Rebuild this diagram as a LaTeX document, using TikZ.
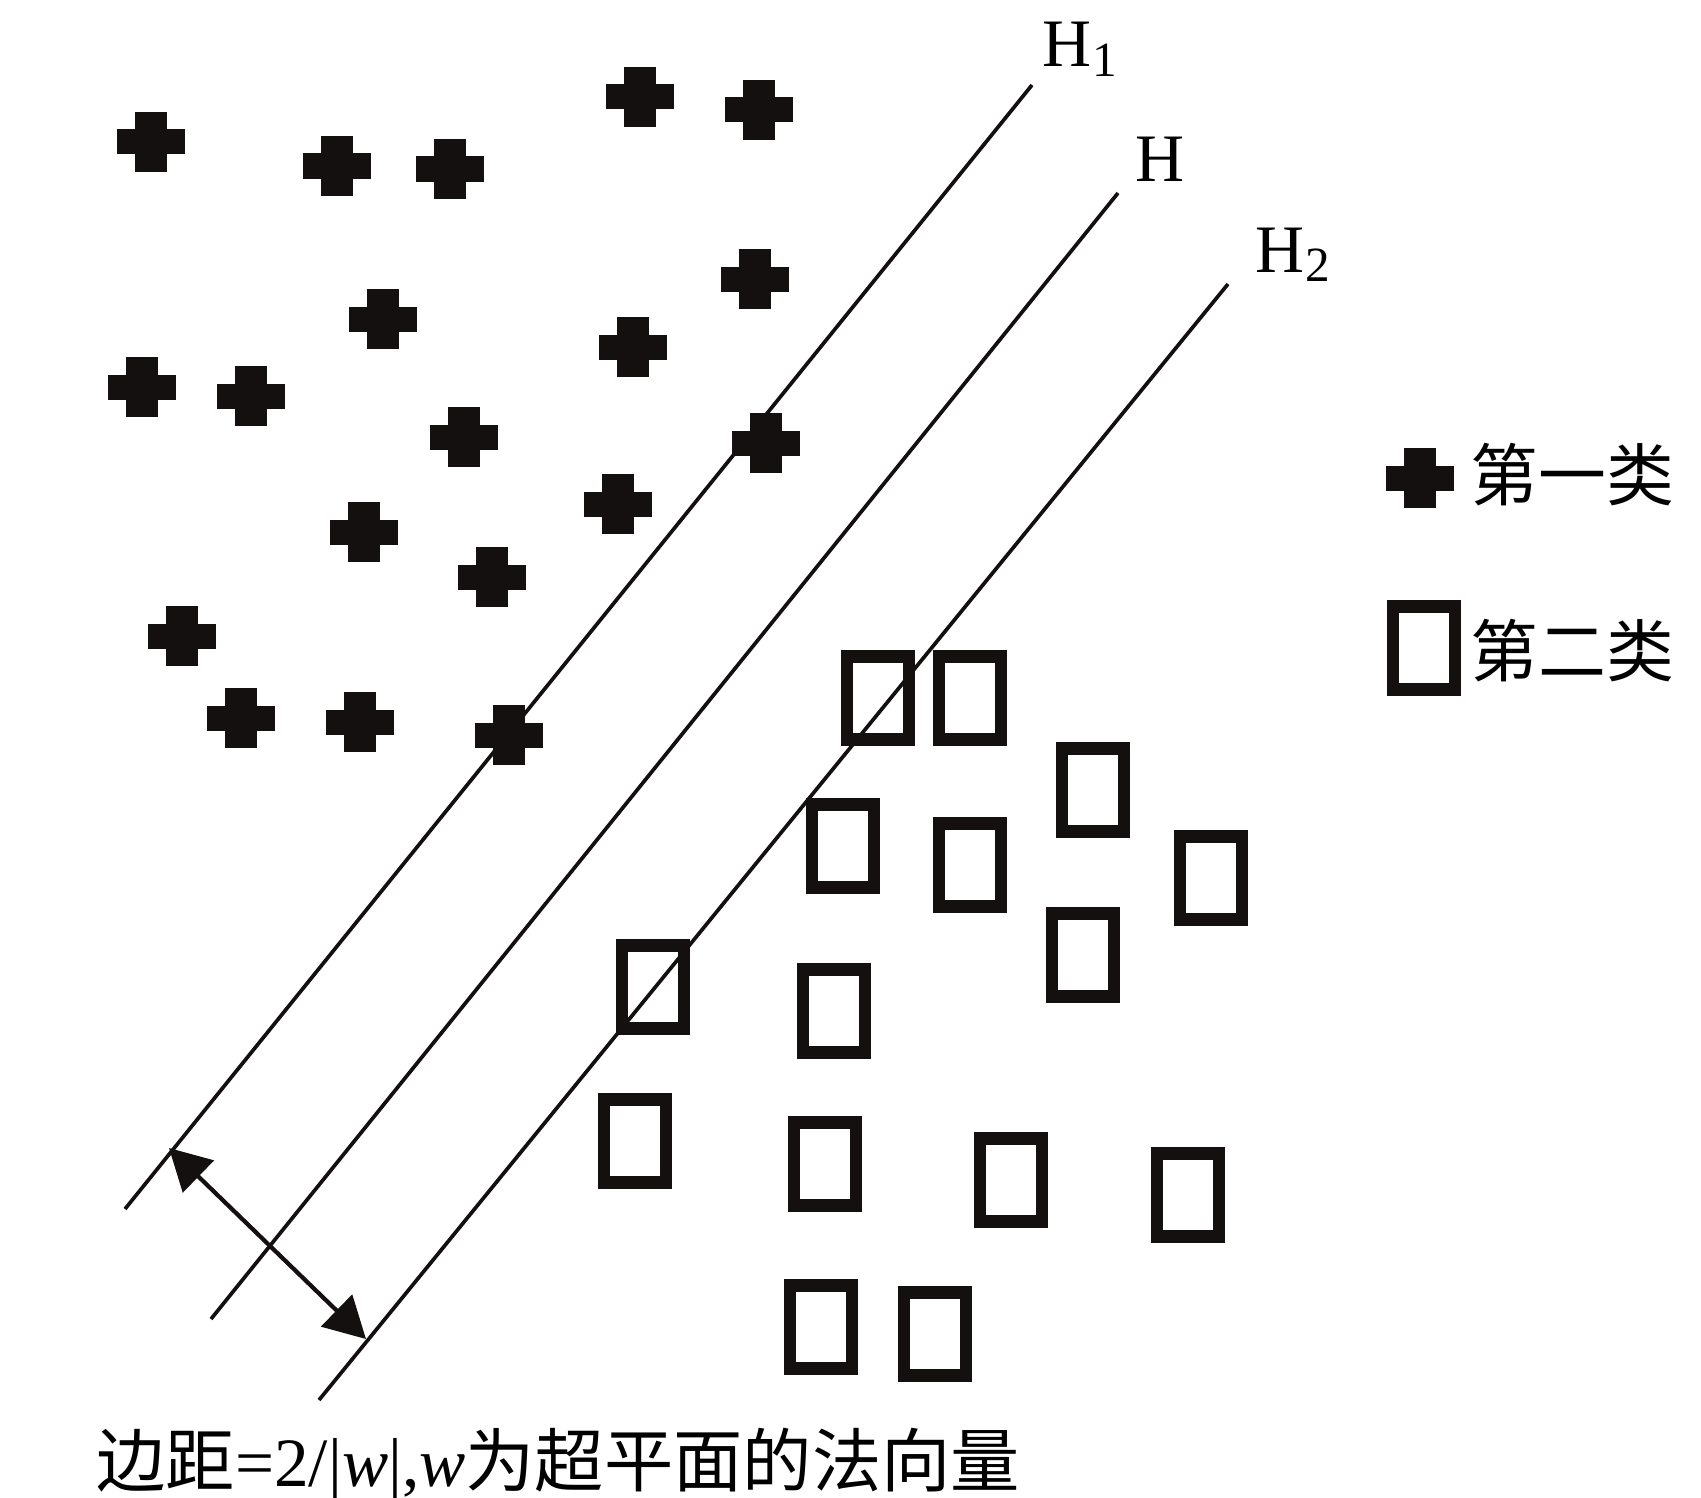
\documentclass[tikz,border=0pt]{standalone}
\usepackage{fontspec}
\setmainfont{Liberation Serif}
\newfontfamily\cjk{Noto Sans CJK SC}
\usetikzlibrary{arrows.meta}
\definecolor{ink}{HTML}{151010}
\tikzset{mtip/.tip={Triangle[length=0.41cm,width=0.44cm]}}
\begin{document}
\begin{tikzpicture}[x=0.01cm,y=-0.01cm,
  hline/.style={line width=1.05pt, draw=ink},
  plusmark/.pic={\fill[ink] (-34,-12.5) rectangle (34,12.5); \fill[ink] (-16,-30) rectangle (16,30);},
  sqmark/.pic={\draw[ink, line width=3.6pt] (-31,-41.5) rectangle (31,41.5);},
  lab/.style={inner sep=0, anchor=base west, font=\fontsize{19.3}{19.3}\selectfont},
  legtext/.style={anchor=west, inner sep=0, font=\cjk\fontsize{19.3}{19.3}\selectfont}
  ]
\useasboundingbox (0,0) rectangle (1701,1497);
% class one (pluses)
\foreach \p in {(151,142),(337,166),(450,169),(640,97),(759,110),(383,319),(755,279),
  (633,347),(142,387),(251,396),(464,437),(766,443),(618,504),(364,532),(492,577),
  (182,636),(241,718),(360,722),(509,735)}
  \pic at \p {plusmark};
% class two (squares)
\foreach \p in {(878,698),(970,698),(1093,790),(843,846),(970,865),(1211,878),(1083,955),
  (653,987),(834,1011),(635,1141),(825,1164),(1011,1180),(1188,1195),(821,1327),(935,1334)}
  \pic at \p {sqmark};
% hyperplanes
\coordinate (h1t) at (1032,85);  \coordinate (h1b) at (125,1209);
\coordinate (ht)  at (1118,193); \coordinate (hb)  at (211,1319);
\coordinate (h2t) at (1228,284); \coordinate (h2b) at (319,1400);
\draw[hline] (h1b) -- (h1t);
\draw[hline] (hb) -- (ht);
\draw[hline] (h2b) -- (h2t);
% margin arrow
\coordinate (a1) at (169,1148);
\coordinate (a2) at (366,1339);
\draw[ink, line width=1.2pt, mtip-mtip] (a1) -- (a2);
% labels
\node[lab] (lH1) at (1042,67) {H\kern0.3pt\raisebox{-2.8pt}{\fontsize{14}{14}\selectfont 1}};
\node[lab] (lH)  at (1135,182) {H};
\node[lab] (lH2) at (1255,272) {H\kern0.3pt\raisebox{-2.8pt}{\fontsize{14}{14}\selectfont 2}};
% legend
\pic at (1420,478) {plusmark};
\pic at (1424,648) {sqmark};
\node[legtext] (leg1) at (1470,475) {第一类};
\node[legtext] (leg2) at (1470,651) {第二类};
% caption
\node[anchor=base west, inner sep=0, font=\fontsize{19.7}{19.7}\selectfont] (cap) at (96,1486)
  {{\cjk 边距}=2/|\textit{w}|,\textit{w}{\cjk 为超平面的法向量}};
\end{tikzpicture}
\end{document}
